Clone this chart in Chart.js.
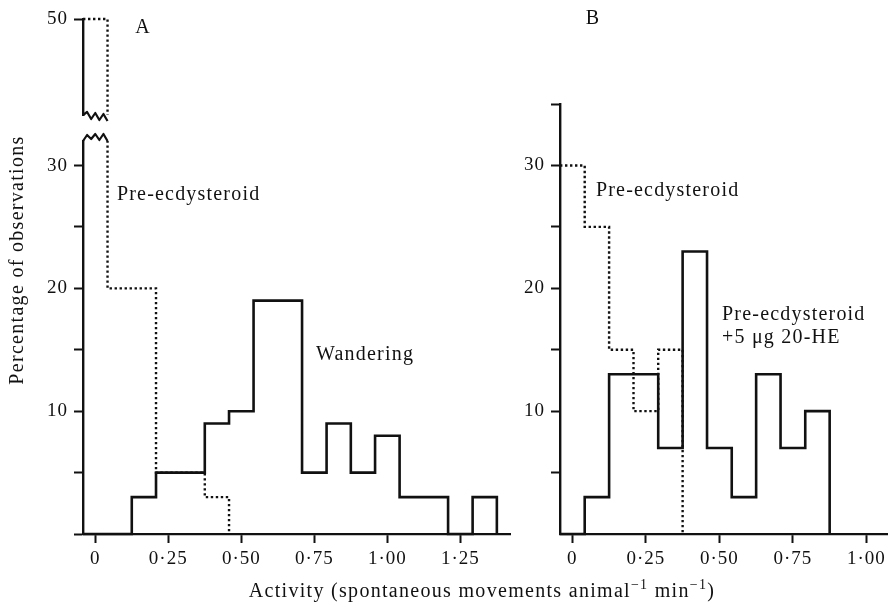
<!DOCTYPE html>
<html lang="en">
<head>
<meta charset="UTF-8">
<title>Activity histograms</title>
<script src="https://cdn.jsdelivr.net/npm/chart.js"></script>
<style>
  body { margin: 0; background: #fff; }
  #wrap { position: relative; width: 894px; height: 614px; }
  #wrap canvas { position: absolute; left: 0; top: 0; }
</style>
</head>
<body>
<div id="wrap">
  <canvas id="aTop" width="894" height="614"></canvas>
  <canvas id="aLow" width="894" height="614"></canvas>
  <canvas id="bChart" width="894" height="614"></canvas>
</div>
<script>
// bin edges, activity (movements animal^-1 min^-1)
const edgesA = [-0.042, 0.042, 0.125, 0.208, 0.292, 0.375, 0.458, 0.542, 0.625, 0.708, 0.792, 0.875, 0.958, 1.042, 1.125, 1.208, 1.292, 1.375];
const preA = [50, 20, 20, 5, 5, 3];
const wanderA = [0, 0, 3, 5, 5, 9, 10, 19, 19, 5, 9, 5, 8, 3, 3, 0, 3];

const edgesB = [-0.042, 0.042, 0.125, 0.208, 0.292, 0.375, 0.458, 0.542, 0.625, 0.708, 0.792, 0.875];
const preB = [30, 25, 15, 10, 15];
const hormoneB = [0, 3, 13, 13, 7, 23, 7, 3, 13, 7, 10];

const xTicksA = [0, 0.25, 0.5, 0.75, 1.0, 1.25];
const xTicksB = [0, 0.25, 0.5, 0.75, 1.0];
const xTickLabels = ['0', '0·25', '0·50', '0·75', '1·00', '1·25'];
const yTicksTop = [50];
const yTicksLow = [0, 5, 10, 15, 20, 25, 30];
const yTicksB = [5, 10, 15, 20, 25, 30, 35];
const yLabelled = [10, 20, 30, 50];

const INK = '#111';
const SERIF = '"Liberation Serif", "DejaVu Serif", serif';
const tickFont = { family: SERIF, size: 19 };

// histogram outline as stepped line points (first bin starts on the y axis)
function steps(edges, values) {
  const pts = [];
  values.forEach((v, i) => pts.push({ x: edges[i], y: v }));
  pts.push({ x: edges[values.length], y: 0 });
  return pts;
}

function solid(data, clip) {
  return { data, clip, borderColor: INK, borderWidth: 2.6, pointRadius: 0, stepped: 'before', fill: false };
}
function dotted(data, clip) {
  return { data, clip, borderColor: INK, borderWidth: 2.4, borderDash: [2.4, 2.6], pointRadius: 0, stepped: 'before', fill: false };
}

function xScale(min, max, ticks, show) {
  return {
    type: 'linear', min, max, display: show,
    afterBuildTicks: s => { s.ticks = ticks.map(v => ({ value: v })); },
    afterFit: s => { s.height = show ? 50 : 0; },
    ticks: { font: tickFont, color: INK, padding: 5, maxRotation: 0, autoSkip: false,
             callback: v => xTickLabels[xTicksA.indexOf(v)] },
    grid: { drawOnChartArea: false, tickLength: 9, tickWidth: 2, tickColor: INK },
    border: { color: INK, width: 2.2, z: 1 }
  };
}

function yScale(min, max, ticks) {
  return {
    type: 'linear', min, max,
    afterBuildTicks: s => { s.ticks = ticks.map(v => ({ value: v })); },
    afterFit: s => { s.width = 60; },
    ticks: { font: tickFont, color: INK, padding: 6, autoSkip: false,
             callback: v => yLabelled.includes(v) ? String(v) : '' },
    grid: { drawOnChartArea: false, tickLength: 9, tickWidth: 2, tickColor: INK },
    border: { color: INK, width: 2.4, z: 1 }
  };
}

// text placed in data coordinates of a chart
function labelsPlugin(items) {
  return {
    id: 'labels',
    beforeDraw(chart) { chart.ctx.letterSpacing = '1px'; },
    afterDraw(chart) {
      const ctx = chart.ctx, xs = chart.scales.x, ys = chart.scales.y;
      ctx.save();
      ctx.letterSpacing = '1.2px';
      ctx.fillStyle = INK;
      ctx.font = '20px ' + SERIF;
      ctx.textBaseline = 'middle';
      ctx.textAlign = 'left';
      items.forEach(it => ctx.fillText(it.text, xs.getPixelForValue(it.x), ys.getPixelForValue(it.y)));
      ctx.restore();
    }
  };
}

// zigzag marking the break of the y axis in panel A
function breakPlugin(atTop) {
  return {
    id: 'axisBreak',
    afterDraw(chart) {
      const ctx = chart.ctx, xs = chart.scales.x, a = chart.chartArea;
      const xl = xs.getPixelForValue(edgesA[0]), xr = xs.getPixelForValue(edgesA[1]);
      const w = (xr - xl) / 6;
      const offs = atTop ? [0, -6, -2, -7, -1, -7, 0] : [0, -3, 4, -2, 5, -1, 6];
      const y0 = atTop ? a.top : a.bottom;
      ctx.save();
      ctx.strokeStyle = INK;
      ctx.lineWidth = 2.2;
      ctx.lineJoin = 'round';
      ctx.beginPath();
      offs.forEach((o, i) => { const px = xl + i * w, py = y0 + o; i ? ctx.lineTo(px, py) : ctx.moveTo(px, py); });
      ctx.stroke();
      ctx.restore();
    }
  };
}

// panel letters and shared axis titles
const pageText = {
  id: 'pageText',
  afterDraw(chart) {
    const ctx = chart.ctx;
    ctx.save();
    ctx.fillStyle = INK;
    ctx.letterSpacing = '1.3px';
    ctx.font = '20px ' + SERIF;
    ctx.textBaseline = 'middle';
    ctx.textAlign = 'center';
    ctx.fillText('A', 143, 28);
    ctx.fillText('B', 593, 19);

    // y title
    ctx.save();
    ctx.translate(18, 260);
    ctx.rotate(-Math.PI / 2);
    ctx.fillText('Percentage of observations', 0, 0);
    ctx.restore();

    // x title with superscripts
    const parts = [
      ['Activity (spontaneous movements animal', 20, 0],
      ['\u22121', 14, -7],
      [' min', 20, 0],
      ['\u22121', 14, -7],
      [')', 20, 0]
    ];
    ctx.textAlign = 'left';
    let total = 0;
    parts.forEach(p => { ctx.font = p[1] + 'px ' + SERIF; total += ctx.measureText(p[0]).width; });
    let x = 482 - total / 2;
    parts.forEach(p => {
      ctx.font = p[1] + 'px ' + SERIF;
      ctx.fillText(p[0], x, 592 + p[2]);
      x += ctx.measureText(p[0]).width;
    });
    ctx.restore();
  }
};

const base = { responsive: false, animation: false, events: [],
               plugins: { legend: { display: false }, tooltip: { enabled: false } } };

// panel A, upper piece above the break
new Chart(document.getElementById('aTop'), {
  type: 'line',
  data: { datasets: [ dotted(steps(edgesA, preA), { top: 3, bottom: 0, left: 3, right: 3 }) ] },
  options: Object.assign({}, base, {
    layout: { padding: { left: 23, right: 384, top: 19, bottom: 499 } },
    scales: { x: xScale(-0.042, 1.42, xTicksA, false), y: yScale(42.2, 50, yTicksTop) }
  }),
  plugins: [labelsPlugin([]), breakPlugin(false)]
});

// panel A, lower piece
new Chart(document.getElementById('aLow'), {
  type: 'line',
  data: { datasets: [
    dotted(steps(edgesA, preA), { top: 0, bottom: 3, left: 3, right: 3 }),
    solid(steps(edgesA, wanderA), { top: 0, bottom: 3, left: 3, right: 3 })
  ] },
  options: Object.assign({}, base, {
    layout: { padding: { left: 23, right: 384, top: 141, bottom: 30 } },
    scales: { x: xScale(-0.042, 1.42, xTicksA, true), y: yScale(0, 32, yTicksLow) }
  }),
  plugins: [labelsPlugin([
    { text: 'Pre-ecdysteroid', x: 0.074, y: 27.6 },
    { text: 'Wandering', x: 0.756, y: 14.6 }
  ]), breakPlugin(true), pageText]
});

// panel B
new Chart(document.getElementById('bChart'), {
  type: 'line',
  data: { datasets: [
    dotted(steps(edgesB, preB), 3),
    solid(steps(edgesB, hormoneB), 3)
  ] },
  options: Object.assign({}, base, {
    layout: { padding: { left: 500, right: 7, top: 104, bottom: 30 } },
    scales: { x: xScale(-0.042, 1.07, xTicksB, true), y: yScale(0, 35, yTicksB) }
  }),
  plugins: [labelsPlugin([
    { text: 'Pre-ecdysteroid', x: 0.08, y: 27.9 },
    { text: 'Pre-ecdysteroid', x: 0.509, y: 17.85 },
    { text: '+5 \u03bcg 20-HE', x: 0.509, y: 16.0 }
  ])]
});
</script>
</body>
</html>
